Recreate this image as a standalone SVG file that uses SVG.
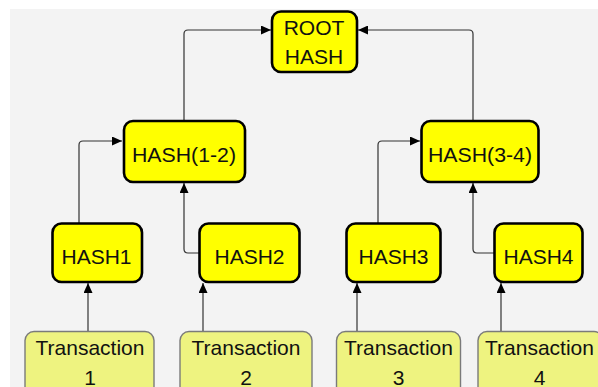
<svg xmlns="http://www.w3.org/2000/svg" width="598" height="387" viewBox="0 0 598 387">
<style>
.hash{fill:#ffff00;stroke:#000;stroke-width:2.6}
.tx{fill:#eef380;stroke:#7a7a7a;stroke-width:1.4}
.lbl{font-family:"Liberation Sans",Arial,sans-serif;font-size:21px;fill:#111;text-anchor:middle}
.conn{fill:none;stroke:#333;stroke-width:1.2}
</style>
<defs>
<marker id="arr" markerUnits="userSpaceOnUse" markerWidth="10" markerHeight="9" refX="10" refY="4.5" orient="auto">
<path d="M0,0 L10,4.5 L0,9 z" fill="#000"/>
</marker>
</defs>
<rect x="0" y="0" width="598" height="387" fill="#fff"/>
<rect x="10" y="9" width="588" height="378" fill="#f3f3f3"/>

<g id="connectors">
<path class="conn" marker-end="url(#arr)" d="M184,120 V34 Q184,30 188,30 H271"/>
<path class="conn" marker-end="url(#arr)" d="M473,120 V34 Q473,30 469,30 H358"/>
<path class="conn" marker-end="url(#arr)" d="M79,223 V145 Q79,141 83,141 H122"/>
<path class="conn" marker-end="url(#arr)" d="M199,253 H188 Q184,253 184,249 V183"/>
<path class="conn" marker-end="url(#arr)" d="M378,223 V145 Q378,141 382,141 H420"/>
<path class="conn" marker-end="url(#arr)" d="M494,253 H477 Q473,253 473,249 V183"/>
<path class="conn" marker-end="url(#arr)" d="M88,331 V283"/>
<path class="conn" marker-end="url(#arr)" d="M203,331 V283"/>
<path class="conn" marker-end="url(#arr)" d="M357,331 V283"/>
<path class="conn" marker-end="url(#arr)" d="M501,331 V283"/>
</g>

<g id="root">
<rect class="hash" x="272" y="11.5" width="85" height="60.5" rx="9"/>
<text class="lbl" x="314" y="35" font-size="22">ROOT</text>
<text class="lbl" x="314" y="64" font-size="22">HASH</text>
</g>
<g id="hash12">
<rect class="hash" x="124" y="121" width="121" height="61" rx="9"/>
<text class="lbl" x="184" y="161.5" textLength="104" lengthAdjust="spacingAndGlyphs">HASH(1-2)</text>
</g>
<g id="hash34">
<rect class="hash" x="421.5" y="121" width="117" height="61" rx="9"/>
<text class="lbl" x="480" y="161.5" textLength="104" lengthAdjust="spacingAndGlyphs">HASH(3-4)</text>
</g>
<g id="hash1">
<rect class="hash" x="52.5" y="223.5" width="89.5" height="58.5" rx="9"/>
<text class="lbl" x="96.5" y="263.5">HASH1</text>
</g>
<g id="hash2">
<rect class="hash" x="199.5" y="223.5" width="100" height="58.5" rx="9"/>
<text class="lbl" x="249.5" y="263.5">HASH2</text>
</g>
<g id="hash3">
<rect class="hash" x="346.5" y="223.5" width="94" height="58.5" rx="9"/>
<text class="lbl" x="393.5" y="263.5">HASH3</text>
</g>
<g id="hash4">
<rect class="hash" x="494.5" y="223.5" width="88" height="58.5" rx="9"/>
<text class="lbl" x="538.5" y="263.5">HASH4</text>
</g>
<g id="tx1">
<rect class="tx" x="25" y="331.5" width="129" height="70" rx="9"/>
<text class="lbl" x="90" y="355">Transaction</text>
<text class="lbl" x="90" y="385">1</text>
</g>
<g id="tx2">
<rect class="tx" x="180" y="331.5" width="132" height="70" rx="9"/>
<text class="lbl" x="246" y="355">Transaction</text>
<text class="lbl" x="246" y="385">2</text>
</g>
<g id="tx3">
<rect class="tx" x="336.5" y="331.5" width="124" height="70" rx="9"/>
<text class="lbl" x="398.5" y="355">Transaction</text>
<text class="lbl" x="398.5" y="385">3</text>
</g>
<g id="tx4">
<rect class="tx" x="478" y="331.5" width="125" height="70" rx="9"/>
<text class="lbl" x="539.5" y="355">Transaction</text>
<text class="lbl" x="539.5" y="385">4</text>
</g>
</svg>
